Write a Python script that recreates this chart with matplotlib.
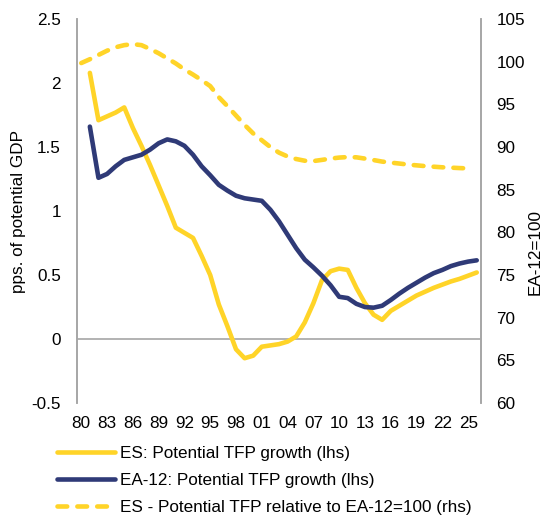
import matplotlib
matplotlib.use("Agg")
import matplotlib.pyplot as plt
import numpy as np

plt.rcParams['font.family'] = ['Liberation Sans', 'DejaVu Sans']
plt.rcParams['lines.scale_dashes'] = False

# category axis 1980..2026, label every third year
years = list(range(1980, 2027))
tick_years = years[::3]

# ES potential TFP growth, 1981-2026 (lhs)
es_growth = [2.08, 1.71, 1.74, 1.77, 1.81, 1.65, 1.51, 1.36, 1.20, 1.04, 0.87,
             0.83, 0.79, 0.65, 0.50, 0.27, 0.10, -0.08, -0.15, -0.13, -0.06,
             -0.05, -0.04, -0.02, 0.02, 0.13, 0.28, 0.46, 0.53, 0.55, 0.54,
             0.40, 0.28, 0.19, 0.15, 0.22, 0.26, 0.30, 0.34, 0.37, 0.40,
             0.425, 0.45, 0.47, 0.495, 0.52]

# EA-12 potential TFP growth, 1981-2026 (lhs)
ea_growth = [1.66, 1.26, 1.29, 1.35, 1.40, 1.42, 1.44, 1.48, 1.53, 1.56, 1.545,
             1.51, 1.44, 1.35, 1.28, 1.205, 1.16, 1.12, 1.10, 1.09, 1.08,
             1.01, 0.92, 0.815, 0.71, 0.62, 0.56, 0.495, 0.42, 0.33, 0.32,
             0.275, 0.25, 0.245, 0.26, 0.305, 0.355, 0.40, 0.44, 0.48, 0.515,
             0.54, 0.57, 0.59, 0.605, 0.615]

# ES TFP level relative to EA-12=100, 1980-2025 (rhs)
es_relative = [99.85, 100.3, 100.8, 101.3, 101.7, 101.95, 102.07, 101.95, 101.5,
               101.0, 100.4, 99.8, 99.1, 98.5, 97.85, 97.15, 95.85, 94.8, 93.7,
               92.6, 91.6, 90.8, 90.0, 89.35, 88.9, 88.6, 88.4, 88.36, 88.5,
               88.65, 88.77, 88.83, 88.8, 88.65, 88.48, 88.3, 88.18, 88.07,
               87.95, 87.86, 87.77, 87.7, 87.63, 87.59, 87.54, 87.5]

yellow = '#FFD428'
navy = '#2F3A77'
grey = '#A6A6A6'
fs = 12.3

pos = {y: i for i, y in enumerate(years)}
x_growth = [pos[y] for y in years[1:]]
x_rel = [pos[y] for y in years[:-1]]

fig = plt.figure(figsize=(5.42, 5.17), dpi=100)
ax = fig.add_axes([0.142, 0.2205, 0.7455, 0.7425])
ax2 = ax.twinx()

l1, = ax.plot(x_growth, es_growth, color=yellow, lw=3.3,
              solid_joinstyle='round', solid_capstyle='round',
              label='ES: Potential TFP growth (lhs)')
l2, = ax.plot(x_growth, ea_growth, color=navy, lw=3.3,
              solid_joinstyle='round', solid_capstyle='round',
              label='EA-12: Potential TFP growth (lhs)')
l3, = ax2.plot(x_rel, es_relative, color=yellow, lw=3.3, dashes=(7, 7.3),
               dash_capstyle='round',
               label='ES - Potential TFP relative to EA-12=100 (rhs)')

ax.set_xlim(-0.5, len(years) - 0.5)
ax.set_ylim(-0.5, 2.5)
ax2.set_ylim(60, 105)
ax.set_yticks(np.arange(-0.5, 2.51, 0.5))
ax.set_yticklabels(['-0.5', '0', '0.5', '1', '1.5', '2', '2.5'])
ax2.set_yticks(range(60, 106, 5))
ax.set_xticks([pos[y] for y in tick_years])
ax.set_xticklabels([f'{y % 100:02d}' for y in tick_years])

ax.axhline(0, color=grey, lw=1.2, zorder=0)
for a in (ax, ax2):
    for s in ('top', 'bottom'):
        a.spines[s].set_visible(False)
    a.spines['left'].set_color(grey)
    a.spines['right'].set_color(grey)
    a.spines['left'].set_linewidth(1.2)
    a.spines['right'].set_linewidth(1.2)
    a.tick_params(length=0, labelsize=fs)
ax.tick_params(axis='y', pad=11.5)
ax.tick_params(axis='x', pad=9.5)
ax2.tick_params(axis='y', pad=11)

ax.set_ylabel('pps. of potential GDP', fontsize=fs)
ax.yaxis.set_label_coords(-0.125, 0.5)
fig.text(535 / 542, 1 - 252 / 517, 'EA-12=100', rotation=90, fontsize=fs,
         ha='center', va='center')

fig.legend(handles=[l1, l2, l3], loc='upper left', bbox_to_anchor=(0.092, 0.15),
           frameon=False, fontsize=fs, handlelength=3.4, handletextpad=0.3,
           labelspacing=0.68, borderaxespad=0)

fig.savefig('out.png', dpi=100)
